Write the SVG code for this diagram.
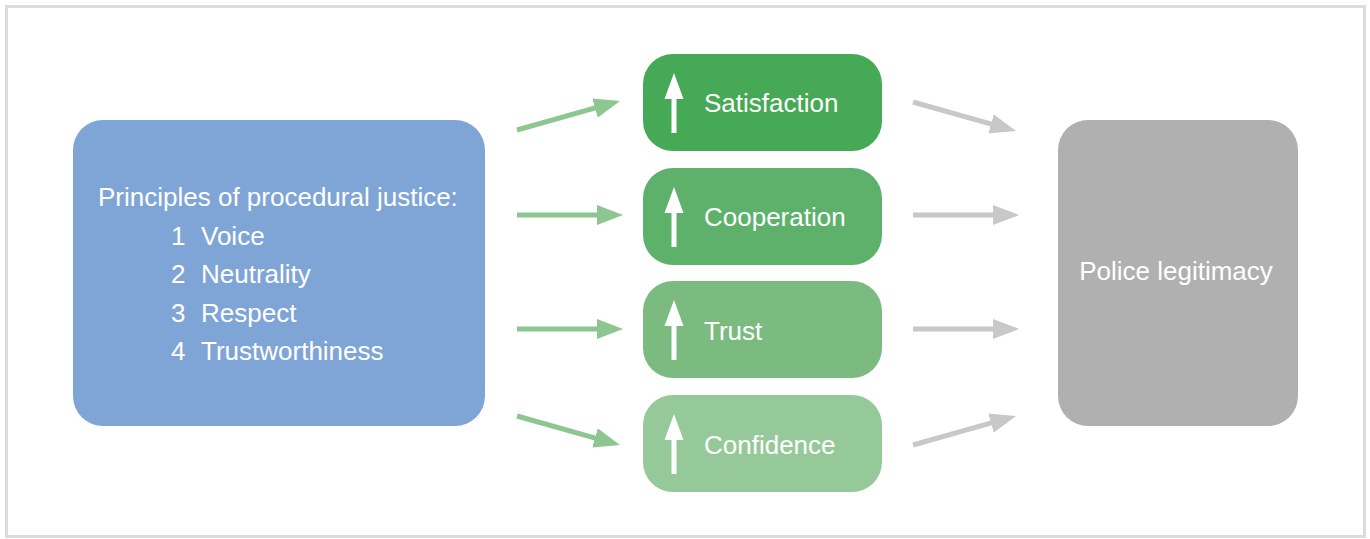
<svg xmlns="http://www.w3.org/2000/svg" width="1370" height="539" viewBox="0 0 1370 539">
  <defs>
    <style>
      .lbl { font-family: "Liberation Sans", Arial, sans-serif; font-size: 26px; fill: #ffffff; }
      .up { fill: #ffffff; }
      .cg { stroke: #8dc690; stroke-width: 5; fill: none; }
      .cy { stroke: #c8c8c9; stroke-width: 5; fill: none; }
    </style>
    <!-- heads: 26 long, 20 wide; line stops 10px short of the tip -->
    <marker id="hg" viewBox="0 0 26 20" refX="16" refY="10" markerWidth="26" markerHeight="20" markerUnits="userSpaceOnUse" orient="auto">
      <path d="M0,0 L26,10 L0,20 Z" fill="#8dc690"/>
    </marker>
    <marker id="hy" viewBox="0 0 26 20" refX="16" refY="10" markerWidth="26" markerHeight="20" markerUnits="userSpaceOnUse" orient="auto">
      <path d="M0,0 L26,10 L0,20 Z" fill="#c8c8c9"/>
    </marker>
    <path id="uparrow" d="M-2.5,0 V-34 H-9.5 L0,-60 L9.5,-34 H2.5 V0 Z"/>
  </defs>

  <rect x="6.5" y="6.5" width="1358" height="530" fill="#ffffff" stroke="#dcdcdc" stroke-width="3"/>

  <g id="principles">
    <rect x="73" y="120" width="412" height="306" rx="30" fill="#7fa5d7"/>
    <text class="lbl" x="98" y="206">Principles of procedural justice:</text>
    <text class="lbl" x="171" y="245">1</text><text class="lbl" x="201" y="245">Voice</text>
    <text class="lbl" x="171" y="283">2</text><text class="lbl" x="201" y="283">Neutrality</text>
    <text class="lbl" x="171" y="322">3</text><text class="lbl" x="201" y="322">Respect</text>
    <text class="lbl" x="171" y="360">4</text><text class="lbl" x="201" y="360">Trustworthiness</text>
  </g>

  <g id="satisfaction">
    <rect x="643" y="54" width="239" height="97" rx="30" fill="#46a955"/>
    <use href="#uparrow" class="up" x="674" y="133"/>
    <text class="lbl" x="704" y="112">Satisfaction</text>
  </g>
  <g id="cooperation">
    <rect x="643" y="168" width="239" height="97" rx="30" fill="#5eb16b"/>
    <use href="#uparrow" class="up" x="674" y="247"/>
    <text class="lbl" x="704" y="226">Cooperation</text>
  </g>
  <g id="trust">
    <rect x="643" y="281" width="239" height="97" rx="30" fill="#7bbb80"/>
    <use href="#uparrow" class="up" x="674" y="360"/>
    <text class="lbl" x="704" y="340">Trust</text>
  </g>
  <g id="confidence">
    <rect x="643" y="395" width="239" height="97" rx="30" fill="#96c999"/>
    <use href="#uparrow" class="up" x="674" y="474"/>
    <text class="lbl" x="704" y="454">Confidence</text>
  </g>

  <g id="legitimacy">
    <rect x="1058" y="120" width="240" height="306" rx="30" fill="#b0b0b1"/>
    <text class="lbl" x="1176" y="280" text-anchor="middle">Police legitimacy</text>
  </g>

  <g id="connectors">
    <line class="cg" x1="517" y1="130" x2="610.4" y2="103.7" marker-end="url(#hg)"/>
    <line class="cg" x1="517" y1="215" x2="613" y2="215" marker-end="url(#hg)"/>
    <line class="cg" x1="517" y1="329" x2="613" y2="329" marker-end="url(#hg)"/>
    <line class="cg" x1="517" y1="416" x2="610.4" y2="442.3" marker-end="url(#hg)"/>
    <line class="cy" x1="913" y1="102" x2="1006.4" y2="128.3" marker-end="url(#hy)"/>
    <line class="cy" x1="913" y1="215" x2="1009" y2="215" marker-end="url(#hy)"/>
    <line class="cy" x1="913" y1="329" x2="1009" y2="329" marker-end="url(#hy)"/>
    <line class="cy" x1="913" y1="445" x2="1006.4" y2="418.7" marker-end="url(#hy)"/>
  </g>
</svg>
